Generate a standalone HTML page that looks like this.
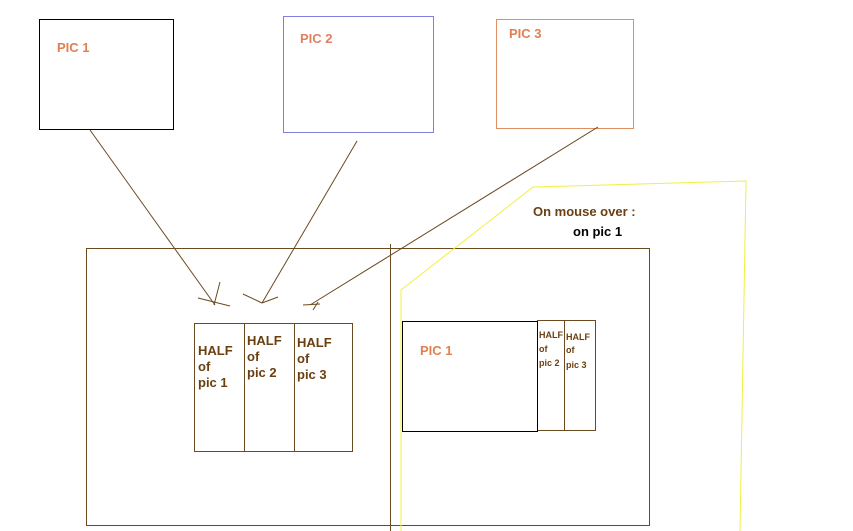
<!DOCTYPE html>
<html><head><style>body{margin:0;background:#fff}svg{display:block}
text{font-family:"Liberation Sans",sans-serif;font-weight:bold}</style></head><body>
<svg width="853" height="531" viewBox="0 0 853 531">
<g fill="none" stroke-width="1">
<rect x="39.5" y="19.5" width="134" height="110" stroke="#000"/>
<rect x="283.5" y="16.5" width="150" height="116" stroke="#8080e0"/>
<rect x="496.5" y="19.5" width="137" height="109" stroke="#e09060"/>
<g stroke="#6b4a1f">
<line x1="90" y1="130" x2="215" y2="305"/>
<line x1="357" y1="141" x2="262" y2="303"/>
<line x1="598" y1="127" x2="310" y2="305"/>
<line x1="198" y1="298" x2="230" y2="306"/>
<line x1="220" y1="282" x2="214" y2="305"/>
<line x1="243" y1="294" x2="262" y2="303"/>
<line x1="262" y1="303" x2="278" y2="297"/>
<line x1="303" y1="305" x2="320" y2="304"/>
<line x1="313" y1="310" x2="318" y2="302"/>
<rect x="86.5" y="248.5" width="563" height="277"/>
<line x1="390.5" y1="244" x2="390.5" y2="531"/>
<rect x="194.5" y="323.5" width="158" height="128"/>
<line x1="244.5" y1="323" x2="244.5" y2="451"/>
<line x1="294.5" y1="323" x2="294.5" y2="451"/>
<rect x="537.5" y="320.5" width="58" height="110"/>
<line x1="564.5" y1="320" x2="564.5" y2="430"/>
</g>
<rect x="402.5" y="321.5" width="135" height="110" stroke="#000"/>
<polyline points="401,531 401,290 533,187 746,181 740,531" stroke="#f0f040"/>
</g>
<g fill="#e08050" font-size="13">
<text x="57" y="52">PIC 1</text>
<text x="300" y="43" fill="#e08060">PIC 2</text>
<text x="509" y="38">PIC 3</text>
<text x="420" y="355">PIC 1</text>
</g>
<g fill="#6b3f10" font-size="13">
<text x="198" y="355">HALF</text><text x="198" y="371">of</text><text x="198" y="387">pic 1</text>
<text x="247" y="345">HALF</text><text x="247" y="361">of</text><text x="247" y="377">pic 2</text>
<text x="297" y="347">HALF</text><text x="297" y="363">of</text><text x="297" y="379">pic 3</text>
<text x="533" y="216">On mouse over :</text>
<text x="573" y="236" fill="#000">on pic 1</text>
</g>
<g fill="#6b3f10" font-size="9" font-weight="normal">
<text x="539" y="338">HALF</text><text x="539" y="352">of</text><text x="539" y="366">pic 2</text>
<text x="566" y="340">HALF</text><text x="566" y="353">of</text><text x="566" y="368">pic 3</text>
</g>
</svg>
</body></html>
